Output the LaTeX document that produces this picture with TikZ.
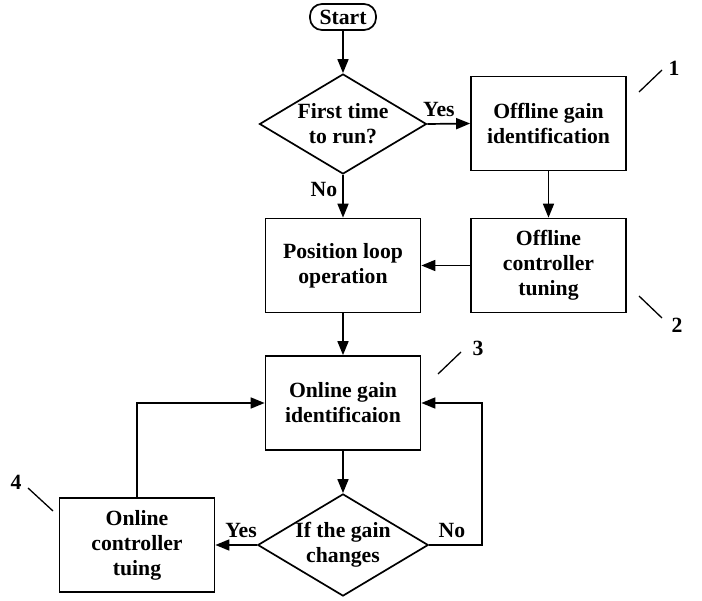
\documentclass[tikz,border=0pt]{standalone}
\usepackage{fontspec}
\setmainfont{Liberation Serif}
\usetikzlibrary{arrows.meta, positioning, shapes.geometric}

\begin{document}
\begin{tikzpicture}[
    x=1pt, y=-1pt,
    every node/.style={font=\fontsize{21.7}{25}\selectfont\bfseries},
    block/.style={rectangle, draw, line width=1.7pt, minimum height=94pt, minimum width=155pt, align=center, inner sep=0pt},
    decision/.style={diamond, draw, line width=1.7pt, shape aspect=1.67, minimum width=167pt, minimum height=100pt, align=center, inner sep=0pt},
    terminal/.style={rectangle, draw, rounded corners=12pt, line width=1.7pt, minimum width=66pt, minimum height=26pt, inner sep=0pt},
    arrow/.style={-{Triangle[length=14pt, width=11pt]}, line width=1.7pt},
    answer/.style={inner sep=0pt},
    tag/.style={line width=1.3pt}
  ]
    \useasboundingbox (0,0) rectangle (702,601);

    % Start and first check
    \node[terminal] (start) at (343,17) {Start};
    \node[decision] (first) at (343,124) {First time\\to run?};

    % Offline branch
    \node[block] (offid) at (548.5,123.5) {Offline gain\\identification};
    \node[block] (offtune) at (548.5,265.5) {Offline\\controller\\tuning};

    % Main line
    \node[block] (posloop) at (343,265.5) {Position loop\\operation};
    \node[block] (onid) at (343,403) {Online gain\\identificaion};
    \node[decision] (change) at (343,545) {If the gain\\changes};
    \node[block] (ontune) at (137,545) {Online\\controller\\tuing};

    % Part numbers
    \node[answer] (n1) at (674,68) {1};
    \node[answer] (n2) at (677,325) {2};
    \node[answer] (n3) at (478,348) {3};
    \node[answer] (n4) at (16,482) {4};
    \draw[tag] (639,92) -- (662,70);
    \draw[tag] (639,296) -- (662,318);
    \draw[tag] (438,374) -- (461,352);
    \draw[tag] (28,488) -- (53,511);

    % Arrows
    \draw[arrow] (start) -- (first);
    \draw[arrow] (first.east) -- node[answer, above=6pt, pos=0.27] {Yes} (offid.west);
    \draw[arrow] (offid) -- (offtune);
    \draw[arrow] (offtune) -- (posloop);
    \draw[arrow] (first.south) -- node[answer, left=5pt, pos=0.34] {No} (posloop.north);
    \draw[arrow] (posloop) -- (onid);
    \draw[arrow] (onid.south) -- (change.north);
    \draw[arrow] (change.east) -- node[answer, above=6pt, pos=0.43] {No} ++(53,0) |- (onid.east);
    \draw[arrow] (change.west) -- node[answer, above=6pt, pos=0.38] {Yes} (ontune.east);
    \draw[arrow] (ontune.north) |- (onid.west);
  \end{tikzpicture}
\end{document}
